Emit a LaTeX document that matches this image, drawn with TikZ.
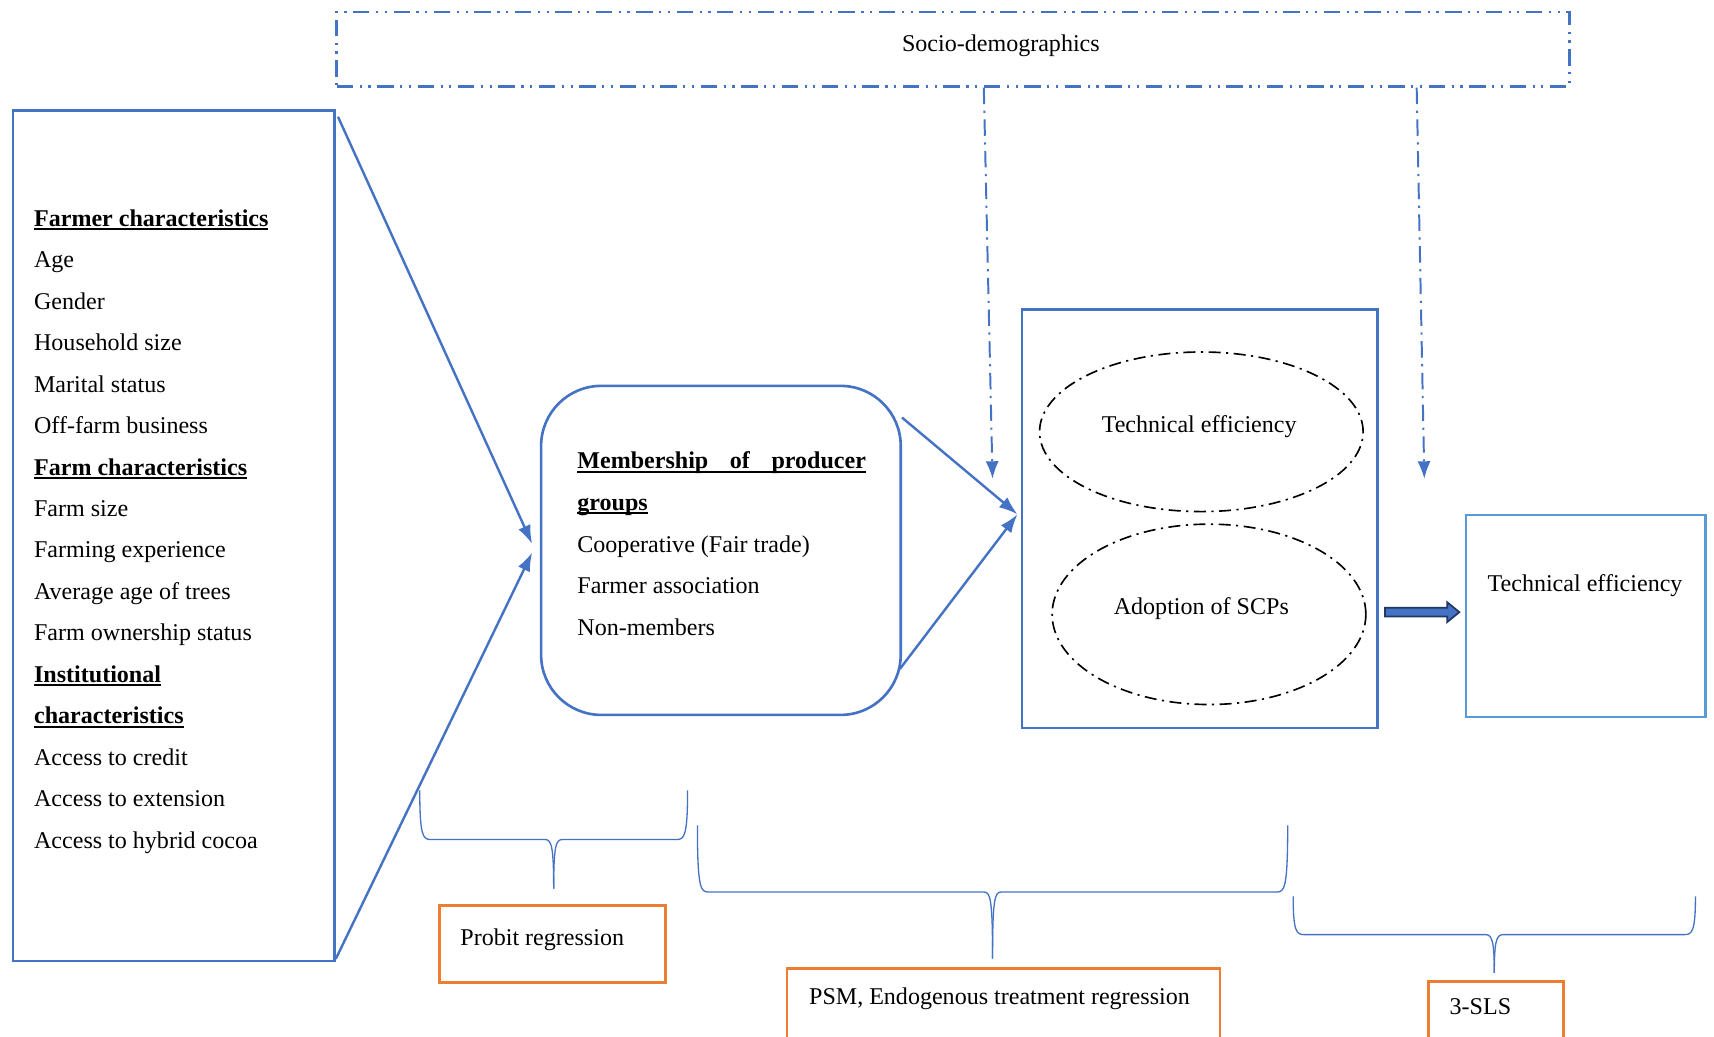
\documentclass[tikz,border=0pt]{standalone}
\usepackage{fontspec}
\setmainfont{Liberation Serif}
\usetikzlibrary{calc,arrows.meta,shapes.geometric}
\definecolor{wblue}{HTML}{4472C4}
\definecolor{lblue}{HTML}{5B9BD5}
\definecolor{worange}{HTML}{ED7D31}
\definecolor{navy}{HTML}{1F3864}
\newcommand{\ulb}[1]{\setbox0=\hbox{#1}\rlap{\rule[-3.4pt]{\wd0}{1.7pt}}\box0}
\newcommand{\wbrace}[5]{%
  \pgfmathsetmacro\xm{(#1+#2)/2}%
  \draw[bracestyle] (#1,#3) .. controls (#1,{#4-3}) and ({#1+3},#4) .. ({#1+10},#4) -- ({\xm-8},#4) .. controls ({\xm-2},#4) and (\xm,{#4+6}) .. (\xm,#5);
  \draw[bracestyle] (#2,#3) .. controls (#2,{#4-3}) and ({#2-3},#4) .. ({#2-10},#4) -- ({\xm+8},#4) .. controls ({\xm+2},#4) and (\xm,{#4+6}) .. (\xm,#5);
}
\begin{document}
\begin{tikzpicture}[x=1pt,y=-1pt,
  txt/.style={font=\fontsize{22}{26}\selectfont, inner sep=0pt, anchor=base west},
  ctxt/.style={font=\fontsize{22}{26}\selectfont, inner sep=0pt},
  bluebox/.style={draw=wblue, line width=2.4pt, inner sep=0pt},
  orangebox/.style={draw=worange, line width=2.6pt, inner sep=0pt},
  conn/.style={draw=wblue, line width=2.2pt, -{Latex[length=17pt,width=12pt]}},
  sarrow/.style={draw=wblue, line width=1.8pt, dash pattern=on 15pt off 6pt on 2pt off 6pt, -{Latex[length=16pt,width=12pt]}},
  ell/.style={draw=black, line width=1.5pt, ellipse, dash pattern=on 11pt off 5pt on 2pt off 5pt, inner sep=0pt},
  bracestyle/.style={draw=wblue, line width=1.2pt}]
\clip (0,0) rectangle (1568,948);
\fill[white] (0,0) rectangle (1568,948);

% socio-demographics box
\node[draw=wblue, line width=2.4pt, dash pattern=on 15pt off 6pt on 2pt off 6pt on 2pt off 6pt,
      minimum width=1128pt, minimum height=68pt, inner sep=0pt] (soc) at (872,45) {};
\node[txt] (soctext) at (825,47) {Socio-demographics};

% left box
\node[bluebox, minimum width=294pt, minimum height=778pt] (lbox) at (159,490) {};
\foreach [count=\i] \t in {
  {\textbf{\ulb{Farmer characteristics}}},
  Age, Gender, Household size, Marital status, Off-farm business,
  {\textbf{\ulb{Farm characteristics}}},
  Farm size, Farming experience, Average age of trees, Farm ownership status,
  {\textbf{\ulb{Institutional}}},
  {\textbf{\ulb{characteristics}}},
  Access to credit, Access to extension, Access to hybrid cocoa}
  \node[txt] (L\i) at (31,{207+(\i-1)*37.93}) {\t};

% membership box
\node[draw=wblue, line width=2.4pt, rounded corners=55pt, minimum width=329pt, minimum height=301pt, inner sep=0pt] (memb) at (659.5,503.5) {};
\node[txt] (m1) at (528,429) {\textbf{\ulb{\makebox[264pt][s]{Membership of producer}}}};
\node[txt] (m2) at (528,467) {\textbf{\ulb{groups}}};
\node[txt] (m3) at (528,505) {Cooperative (Fair trade)};
\node[txt] (m4) at (528,543) {Farmer association};
\node[txt] (m5) at (528,581) {Non-members};

% middle box with ellipses
\node[bluebox, minimum width=325pt, minimum height=383pt] (mid) at (1097.5,474.5) {};
\node[ell, minimum width=296pt, minimum height=146pt] (e1) at (1099,395) {};
\node[ctxt] (e1text) at (1097,390) {Technical efficiency};
\node[ell, minimum width=287pt, minimum height=165pt] (e2) at (1106,562) {};
\node[ctxt] (e2text) at (1099,557) {Adoption of SCPs};

% right box
\node[draw=lblue, line width=2.4pt, minimum width=219pt, minimum height=185pt, inner sep=0pt] (tebox) at (1450.5,563.5) {};
\node[ctxt] (tetext) at (1450,536) {Technical efficiency};

% thick arrow
\draw[draw=navy, fill=wblue, line width=1.6pt, line join=miter]
  (1267,556) -- (1324,556) -- (1324,551) -- (1335,560) -- (1324,569) -- (1324,564) -- (1267,564) -- cycle;

% connectors
\draw[conn] ($(lbox.north east)+(2,7)$) -- ($(memb.west)+(-7,-6)$);
\draw[conn] ($(lbox.south east)+(0,-3)$) -- ($(memb.west)+(-7,2)$);
\draw[conn] ($(memb.east)+(0,-121.5)$) -- ($(mid.west)+(-3,-4)$);
\draw[conn] ($(memb.east)+(-2,108.5)$) -- ($(mid.west)+(-3,-4)$);
\coordinate (t1) at (908,438);
\coordinate (t2) at (1303,438);
\draw[sarrow] ($(soc.south)+(28,0)$) -- (t1);
\draw[sarrow] ($(soc.south)+(424,0)$) -- (t2);

% braces
\wbrace{384}{629}{723}{768}{813}
\wbrace{638}{1178}{755}{816}{877}
\wbrace{1183}{1551}{820}{855}{890}

% method boxes
\node[orangebox, minimum width=207pt, minimum height=71pt] (probit) at (505.5,863.5) {};
\node[txt] (probittext) at (421,865) {Probit regression};
\node[orangebox, minimum width=396pt, minimum height=80pt] (psm) at (918,926) {};
\node[txt] (psmtext) at (740,919) {PSM, Endogenous treatment regression};
\node[orangebox, minimum width=123pt, minimum height=70pt] (sls) at (1368.5,933) {};
\node[txt] (slstext) at (1326,928) {3-SLS};
\end{tikzpicture}
\end{document}
